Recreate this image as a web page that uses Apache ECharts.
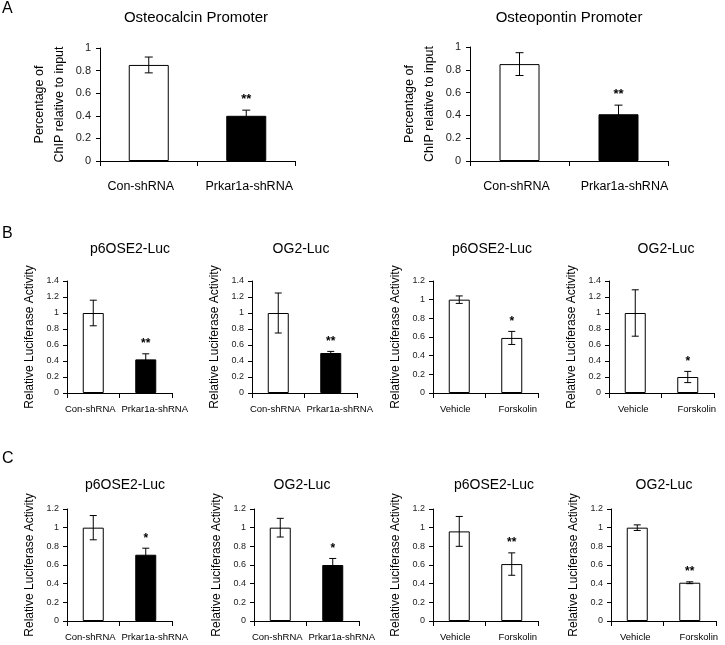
<!DOCTYPE html>
<html><head><meta charset="utf-8">
<script src="https://cdn.jsdelivr.net/npm/echarts@6/dist/echarts.min.js"></script>
<style>html,body{margin:0;padding:0;background:#fff}#c{width:725px;height:645px}</style>
</head><body><div id="c"></div>
<script>
// ---------- data ----------
const shCategories = ['Con-shRNA', 'Prkar1a-shRNA'];
const drugCategories = ['Vehicle', 'Forskolin'];

const osteocalcinMean = [0.85, 0.40];
const osteocalcinErr  = [0.07, 0.05];
const osteocalcinSig  = ['', '**'];

const osteopontinMean = [0.85, 0.41];
const osteopontinErr  = [0.10, 0.08];
const osteopontinSig  = ['', '**'];

const bP6shMean = [1.00, 0.42];
const bP6shErr  = [0.16, 0.07];
const bP6shSig  = ['', '**'];

const bOG2shMean = [1.00, 0.50];
const bOG2shErr  = [0.25, 0.02];
const bOG2shSig  = ['', '**'];

const bP6fkMean = [1.00, 0.59];
const bP6fkErr  = [0.04, 0.07];
const bP6fkSig  = ['', '*'];

const bOG2fkMean = [1.00, 0.20];
const bOG2fkErr  = [0.29, 0.07];
const bOG2fkSig  = ['', '*'];

const cP6shMean = [1.00, 0.71];
const cP6shErr  = [0.13, 0.07];
const cP6shSig  = ['', '*'];

const cOG2shMean = [1.00, 0.60];
const cOG2shErr  = [0.10, 0.07];
const cOG2shSig  = ['', '*'];

const cP6fkMean = [0.96, 0.61];
const cP6fkErr  = [0.16, 0.12];
const cP6fkSig  = ['', '**'];

const cOG2fkMean = [1.00, 0.41];
const cOG2fkErr  = [0.03, 0.01];
const cOG2fkSig  = ['', '**'];

const chipYMax = [1, 1];
const bYMax = [1.4, 1.4, 1.2, 1.4];
const cYMax = [1.2, 1.2, 1.2, 1.2];
const yStep = 0.2;

const chipYName = 'Percentage of\nChIP relative to input';
const lucYName = 'Relative Luciferase Activity';
const panelLetters = ['A', 'B', 'C'];

// ---------- layout ----------
const FONT = 'Liberation Sans, Arial, sans-serif';
const WHITE_BLACK = ['#ffffff', '#000000'];
const WHITE_WHITE = ['#ffffff', '#ffffff'];
const letterTops = [1, 226, 451];

const panels = [
  {g:{left:100,top:48,width:195,height:113}, cats:shCategories, mean:osteocalcinMean, err:osteocalcinErr, sig:osteocalcinSig, max:chipYMax[0], fill:WHITE_BLACK, big:true, title:'Osteocalcin Promoter', tx:196, ty:10, shift:[-8, 3]},
  {g:{left:470,top:47,width:198,height:114}, cats:shCategories, mean:osteopontinMean, err:osteopontinErr, sig:osteopontinSig, max:chipYMax[1], fill:WHITE_BLACK, big:true, title:'Osteopontin Promoter', tx:569, ty:10, shift:[-3, 6]},
  {g:{left:67,top:281,width:105,height:112}, cats:shCategories, mean:bP6shMean, err:bP6shErr, sig:bP6shSig, max:bYMax[0], fill:WHITE_BLACK, title:'p6OSE2-Luc', tx:130, ty:242, shift:[-3, 9]},
  {g:{left:252,top:281,width:105,height:112}, cats:shCategories, mean:bOG2shMean, err:bOG2shErr, sig:bOG2shSig, max:bYMax[1], fill:WHITE_BLACK, title:'OG2-Luc', tx:301, ty:242, shift:[-3, 9]},
  {g:{left:433,top:281,width:105,height:112}, cats:drugCategories, mean:bP6fkMean, err:bP6fkErr, sig:bP6fkSig, max:bYMax[2], fill:WHITE_WHITE, title:'p6OSE2-Luc', tx:492, ty:242, shift:[-4, 6]},
  {g:{left:609,top:281,width:105,height:112}, cats:drugCategories, mean:bOG2fkMean, err:bOG2fkErr, sig:bOG2fkSig, max:bYMax[3], fill:WHITE_WHITE, title:'OG2-Luc', tx:666, ty:242, shift:[-2, 9]},
  {g:{left:67,top:509,width:105,height:112}, cats:shCategories, mean:cP6shMean, err:cP6shErr, sig:cP6shSig, max:cYMax[0], fill:WHITE_BLACK, title:'p6OSE2-Luc', tx:125, ty:478, shift:[-3, 9]},
  {g:{left:254,top:509,width:105,height:112}, cats:shCategories, mean:cOG2shMean, err:cOG2shErr, sig:cOG2shSig, max:cYMax[1], fill:WHITE_BLACK, title:'OG2-Luc', tx:302, ty:478, shift:[-3, 9]},
  {g:{left:433,top:509,width:105,height:112}, cats:drugCategories, mean:cP6fkMean, err:cP6fkErr, sig:cP6fkSig, max:cYMax[2], fill:WHITE_WHITE, title:'p6OSE2-Luc', tx:494, ty:478, shift:[-4, 6]},
  {g:{left:611,top:509,width:105,height:112}, cats:drugCategories, mean:cOG2fkMean, err:cOG2fkErr, sig:cOG2fkSig, max:cYMax[3], fill:WHITE_WHITE, title:'OG2-Luc', tx:664, ty:478, shift:[-2, 9]}
];

const grid = [], xAxis = [], yAxis = [], series = [];
const title = [];
const graphic = panelLetters.map((t, k) => ({
  type:'text', left:2, top:letterTops[k], silent:true,
  style:{text:t, fill:'#000', font:'16px ' + FONT}
}));

function shiftPad(s) {
  return s >= 0 ? [0, 0, 0, 2 * s] : [0, -2 * s, 0, 0];
}

panels.forEach((p, i) => {
  grid.push(Object.assign({containLabel:false}, p.g));
  title.push({text:p.title, left:p.tx, top:p.ty, padding:0, textAlign:'center',
    textStyle:{fontSize:p.big?15:14, fontWeight:'normal', fontFamily:FONT, color:'#000'}});
  xAxis.push({
    type:'category', gridIndex:i,
    data:p.cats.map((c, k) => ({value:c, textStyle:{padding:shiftPad(p.shift[k])}})),
    boundaryGap:true,
    axisLine:{lineStyle:{color:'#000', width:1}},
    axisTick:{show:true, length:5, lineStyle:{color:'#000'}},
    axisLabel:{interval:0, color:'#000', fontFamily:FONT, fontSize:p.big?12.5:9.5, margin:p.big?19:11}
  });
  yAxis.push({
    type:'value', gridIndex:i, min:0, max:p.max, interval:yStep,
    name:p.big?chipYName:lucYName, nameLocation:'middle', nameRotate:90,
    nameGap:30,
    nameTextStyle:{color:'#000', fontFamily:FONT, fontSize:p.big?12.5:12, lineHeight:p.big?20:14},
    axisLine:{show:true, lineStyle:{color:'#000', width:1}},
    axisTick:{show:true, length:4, lineStyle:{color:'#000'}},
    splitLine:{show:false},
    axisLabel:{color:'#222', fontFamily:FONT, fontSize:p.big?11:9, margin:p.big?9:8}
  });
  series.push({
    type:'bar', xAxisIndex:i, yAxisIndex:i, barWidth:p.big?40:21,
    data:p.mean.map((v, k) => ({value:v, itemStyle:{color:p.fill[k]}})),
    itemStyle:{borderColor:'#000', borderWidth:1},
    silent:true, animation:false
  });
  const capHalf = p.big ? 4 : 3.5;
  const sig = p.sig;
  series.push({
    type:'custom', xAxisIndex:i, yAxisIndex:i, z:5, animation:false, silent:true,
    data:p.mean.map((v, k) => [k, v, p.err[k]]),
    encode:{x:0, y:1},
    renderItem:(params, api) => {
      const x = api.value(0), m = api.value(1), e = api.value(2);
      const top = api.coord([x, m + e]);
      const bot = api.coord([x, m - e]);
      const st = {stroke:'#000', lineWidth:1};
      const children = [
        {type:'line', shape:{x1:top[0], y1:top[1], x2:bot[0], y2:bot[1]}, style:st},
        {type:'line', shape:{x1:top[0]-capHalf, y1:top[1], x2:top[0]+capHalf, y2:top[1]}, style:st},
        {type:'line', shape:{x1:bot[0]-capHalf, y1:bot[1], x2:bot[0]+capHalf, y2:bot[1]}, style:st}
      ];
      const s = sig[params.dataIndex];
      if (s) {
        children.push({type:'text', style:{text:s, x:top[0], y:top[1]-4, align:'center', verticalAlign:'bottom',
          fill:'#000', font:'bold ' + (p.big?13:12) + 'px ' + FONT}});
      }
      return {type:'group', children};
    }
  });
});

const chart = echarts.init(document.getElementById('c'), null, {renderer:'canvas'});
chart.setOption({backgroundColor:'#fff', animation:false, title, grid, xAxis, yAxis, series, graphic});
</script>
</body></html>
